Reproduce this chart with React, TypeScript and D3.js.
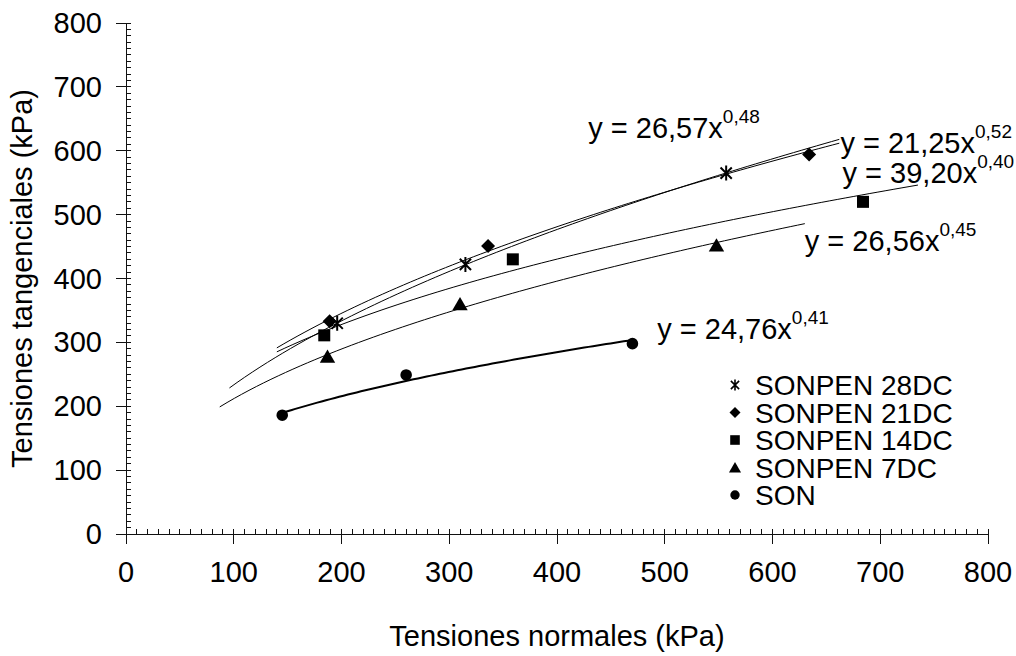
import React, { useEffect, useRef } from 'react';
import * as d3 from 'd3';

// series
const seriesNames = ['SONPEN 28DC', 'SONPEN 21DC', 'SONPEN 14DC', 'SONPEN 7DC', 'SON'];
const markerKinds = ['asterisk', 'diamond', 'square', 'triangle', 'circle'];

const normal28 = [196, 315, 557];
const shear28 = [330, 422, 565];
const normal21 = [189, 336, 634];
const shear21 = [333, 451, 594];
const normal14 = [184, 359, 684];
const shear14 = [311, 430, 520];
const normal7 = [187, 310, 548];
const shear7 = [278, 360, 452];
const normalSon = [145, 260, 470];
const shearSon = [186, 249, 298];

// trendline extent (kPa, normal stress)
const trendFrom = [96, 140, 140, 87, 145];
const trendTo = [662, 662, 735, 630, 470];

// equation labels and where they sit (data units)
const eqMain = ['y = 21,25x', 'y = 26,57x', 'y = 39,20x', 'y = 26,56x', 'y = 24,76x'];
const eqExp = ['0,52', '0,48', '0,40', '0,45', '0,41'];
const eqAtX = [663, 429, 665, 630, 493];
const eqAtY = [597, 620, 550, 443, 305];

const xTicks = [0, 100, 200, 300, 400, 500, 600, 700, 800];
const yTicks = [0, 100, 200, 300, 400, 500, 600, 700, 800];

const W = 1016;
const H = 656;
const FONT = "'Liberation Sans', Arial, sans-serif";

// Excel-style power trendline: least squares on ln(x), ln(y)
function powerFit(xs: number[], ys: number[]) {
  const lx = xs.map(Math.log);
  const ly = ys.map(Math.log);
  const mx = d3.mean(lx) as number;
  const my = d3.mean(ly) as number;
  let sxy = 0, sxx = 0;
  lx.forEach((v, i) => { sxy += (v - mx) * (ly[i] - my); sxx += (v - mx) * (v - mx); });
  const b = sxy / sxx;
  const a = Math.exp(my - b * mx);
  return { a, b };
}

function markerPath(kind: string, s: number) {
  switch (kind) {
    case 'diamond':
      return `M0,${-s}L${s},0L0,${s}L${-s},0Z`;
    case 'square':
      return `M${-s},${-s}H${s}V${s}H${-s}Z`;
    case 'triangle':
      return `M0,${-s}L${s * 1.1},${s * 0.9}L${-s * 1.1},${s * 0.9}Z`;
    case 'circle':
      return d3.arc()({ innerRadius: 0, outerRadius: s, startAngle: 0, endAngle: 2 * Math.PI }) as string;
    default: {
      const d = s * 0.75;
      return `M0,${-s}V${s}M${-d},${-d}L${d},${d}M${-d},${d}L${d},${-d}`;
    }
  }
}

const App: React.FC = () => {
  const svgRef = useRef<SVGSVGElement>(null);

  useEffect(() => {
    if (!svgRef.current) return;
    const svg = d3.select(svgRef.current);
    svg.selectAll('*').remove();

    const margin = { top: 23, right: 28, bottom: 122, left: 126 };
    const x = d3.scaleLinear().domain([0, 800]).range([margin.left, W - margin.right]);
    const y = d3.scaleLinear().domain([0, 800]).range([H - margin.bottom, margin.top]);

    const series = [
      { xs: normal28, ys: shear28 },
      { xs: normal21, ys: shear21 },
      { xs: normal14, ys: shear14 },
      { xs: normal7, ys: shear7 },
      { xs: normalSon, ys: shearSon },
    ];

    // Axes
    const ax = svg.append('g').attr('stroke', '#111').attr('stroke-width', 1).attr('shape-rendering', 'crispEdges');
    const y0 = y(0);
    const x0 = x(0);
    ax.append('line').attr('x1', x0).attr('x2', x(800)).attr('y1', y0).attr('y2', y0);
    ax.append('line').attr('x1', x0).attr('x2', x0).attr('y1', y(800)).attr('y2', y0);

    const minor = d3.range(10, 800, 10).filter(v => v % 100 !== 0);
    minor.forEach(v => {
      ax.append('line').attr('x1', x(v)).attr('x2', x(v)).attr('y1', y0).attr('y2', y0 - 5);
      ax.append('line').attr('x1', x0).attr('x2', x0 + 5).attr('y1', y(v)).attr('y2', y(v));
    });
    xTicks.forEach(v => {
      ax.append('line').attr('x1', x(v)).attr('x2', x(v)).attr('y1', y0 - 5).attr('y2', y0 + 10);
    });
    yTicks.forEach(v => {
      ax.append('line').attr('x1', x0 - 10).attr('x2', x0 + 5).attr('y1', y(v)).attr('y2', y(v));
    });

    const labels = svg.append('g').attr('font-family', FONT).attr('font-size', 29).attr('fill', '#000');
    xTicks.forEach(v => {
      labels.append('text').attr('x', x(v)).attr('y', y0 + 48).attr('text-anchor', 'middle').text(v);
    });
    yTicks.forEach(v => {
      labels.append('text').attr('x', x0 - 24).attr('y', y(v) + 10).attr('text-anchor', 'end').text(v);
    });
    labels.append('text')
      .attr('x', (x(0) + x(800)) / 2).attr('y', 646)
      .attr('text-anchor', 'middle')
      .text('Tensiones normales (kPa)');
    labels.append('text')
      .attr('transform', `translate(32,${(y(0) + y(800)) / 2}) rotate(-90)`)
      .attr('text-anchor', 'middle')
      .text('Tensiones tangenciales (kPa)');

    // Trendlines
    const line = d3.line<[number, number]>().x(d => x(d[0])).y(d => y(d[1]));
    series.forEach((s, i) => {
      const { a, b } = powerFit(s.xs, s.ys);
      const pts: [number, number][] = d3.range(81).map(k => {
        const v = trendFrom[i] + (trendTo[i] - trendFrom[i]) * k / 80;
        return [v, a * Math.pow(v, b)];
      });
      svg.append('path')
        .attr('d', line(pts))
        .attr('fill', 'none')
        .attr('stroke', '#000')
        .attr('stroke-width', i === 4 ? 2 : 1);
    });

    // Markers
    const sizes: Record<string, number> = { asterisk: 7.5, diamond: 7, square: 6, triangle: 7, circle: 5.8 };
    series.forEach((s, i) => {
      const kind = markerKinds[i];
      s.xs.forEach((v, k) => {
        svg.append('path')
          .attr('transform', `translate(${x(v)},${y(s.ys[k])})`)
          .attr('d', markerPath(kind, sizes[kind]))
          .attr('fill', kind === 'asterisk' ? 'none' : '#000')
          .attr('stroke', '#000')
          .attr('stroke-width', kind === 'asterisk' ? 2 : 0);
      });
    });

    // Equation labels
    eqMain.forEach((t, i) => {
      const txt = labels.append('text').attr('x', x(eqAtX[i])).attr('y', y(eqAtY[i]));
      txt.append('tspan').text(t);
      txt.append('tspan').attr('font-size', 19).attr('dy', -15).text(eqExp[i]);
    });

    // Legend
    const legSizes: Record<string, number> = { asterisk: 5.5, diamond: 5.5, square: 4.8, triangle: 5.5, circle: 4.7 };
    const leg = svg.append('g').attr('transform', 'translate(735,385)');
    seriesNames.forEach((name, i) => {
      const kind = markerKinds[i];
      const row = leg.append('g').attr('transform', `translate(0,${i * 27.5})`);
      row.append('path')
        .attr('d', markerPath(kind, legSizes[kind]))
        .attr('fill', kind === 'asterisk' ? 'none' : '#000')
        .attr('stroke', '#000')
        .attr('stroke-width', kind === 'asterisk' ? 1.6 : 0);
      row.append('text')
        .attr('x', 20).attr('y', 10)
        .attr('font-family', FONT).attr('font-size', 28)
        .text(name);
    });
  }, []);

  return (
    <svg
      ref={svgRef}
      width={W}
      height={H}
      style={{ position: 'absolute', left: 0, top: 0, background: '#fff' }}
    />
  );
};

export default App;
